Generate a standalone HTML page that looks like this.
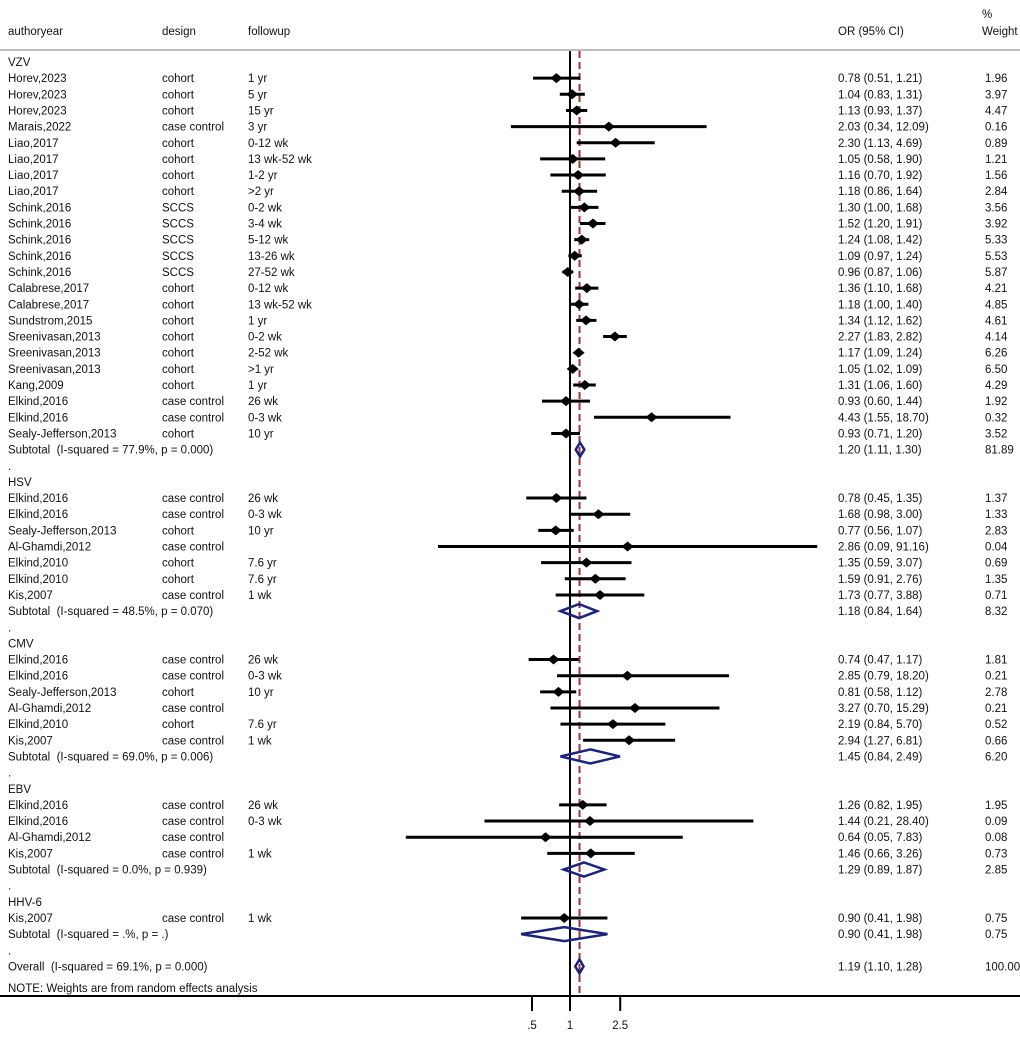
<!DOCTYPE html>
<html><head><meta charset="utf-8"><style>
body{margin:0;background:#fff;font-family:"Liberation Sans",Arial,sans-serif;}
svg text{font-family:"Liberation Sans",Arial,sans-serif;font-size:11.5px;fill:#111;white-space:pre;}
</style></head><body>
<svg id="plot" width="1020" height="1036" xmlns="http://www.w3.org/2000/svg">
<text x="8" y="35">authoryear</text>
<text x="162" y="35">design</text>
<text x="248" y="35">followup</text>
<text x="838" y="35">OR (95% CI)</text>
<text x="982" y="18">%</text>
<text x="982" y="35">Weight</text>
<line x1="0" y1="50" x2="1020" y2="50" stroke="#bbb" stroke-width="2"/>
<g id="g"></g>
</svg>
<script>
const rowLabels=["VZV","Horev,2023","Horev,2023","Horev,2023","Marais,2022","Liao,2017","Liao,2017","Liao,2017","Liao,2017","Schink,2016","Schink,2016","Schink,2016","Schink,2016","Schink,2016","Calabrese,2017","Calabrese,2017","Sundstrom,2015","Sreenivasan,2013","Sreenivasan,2013","Sreenivasan,2013","Kang,2009","Elkind,2016","Elkind,2016","Sealy-Jefferson,2013","Subtotal  (I-squared = 77.9%, p = 0.000)",".","HSV","Elkind,2016","Elkind,2016","Sealy-Jefferson,2013","Al-Ghamdi,2012","Elkind,2010","Elkind,2010","Kis,2007","Subtotal  (I-squared = 48.5%, p = 0.070)",".","CMV","Elkind,2016","Elkind,2016","Sealy-Jefferson,2013","Al-Ghamdi,2012","Elkind,2010","Kis,2007","Subtotal  (I-squared = 69.0%, p = 0.006)",".","EBV","Elkind,2016","Elkind,2016","Al-Ghamdi,2012","Kis,2007","Subtotal  (I-squared = 0.0%, p = 0.939)",".","HHV-6","Kis,2007","Subtotal  (I-squared = .%, p = .)",".","Overall  (I-squared = 69.1%, p = 0.000)"];
const rowTypes=["h","s","s","s","s","s","s","s","s","s","s","s","s","s","s","s","s","s","s","s","s","s","s","s","d","b","h","s","s","s","s","s","s","s","d","b","h","s","s","s","s","s","s","d","b","h","s","s","s","s","d","b","h","s","d","b","d"];
const designs=["","cohort","cohort","cohort","case control","cohort","cohort","cohort","cohort","SCCS","SCCS","SCCS","SCCS","SCCS","cohort","cohort","cohort","cohort","cohort","cohort","cohort","case control","case control","cohort","","","","case control","case control","cohort","case control","cohort","cohort","case control","","","","case control","case control","cohort","case control","cohort","case control","","","","case control","case control","case control","case control","","","","case control","","",""];
const followups=["","1 yr","5 yr","15 yr","3 yr","0-12 wk","13 wk-52 wk","1-2 yr",">2 yr","0-2 wk","3-4 wk","5-12 wk","13-26 wk","27-52 wk","0-12 wk","13 wk-52 wk","1 yr","0-2 wk","2-52 wk",">1 yr","1 yr","26 wk","0-3 wk","10 yr","","","","26 wk","0-3 wk","10 yr","","7.6 yr","7.6 yr","1 wk","","","","26 wk","0-3 wk","10 yr","","7.6 yr","1 wk","","","","26 wk","0-3 wk","","1 wk","","","","1 wk","","",""];
const orValues=[null,0.78,1.04,1.13,2.03,2.30,1.05,1.16,1.18,1.30,1.52,1.24,1.09,0.96,1.36,1.18,1.34,2.27,1.17,1.05,1.31,0.93,4.43,0.93,1.20,null,null,0.78,1.68,0.77,2.86,1.35,1.59,1.73,1.18,null,null,0.74,2.85,0.81,3.27,2.19,2.94,1.45,null,null,1.26,1.44,0.64,1.46,1.29,null,null,0.90,0.90,null,1.19];
const ciLower=[null,0.51,0.83,0.93,0.34,1.13,0.58,0.70,0.86,1.00,1.20,1.08,0.97,0.87,1.10,1.00,1.12,1.83,1.09,1.02,1.06,0.60,1.55,0.71,1.11,null,null,0.45,0.98,0.56,0.09,0.59,0.91,0.77,0.84,null,null,0.47,0.79,0.58,0.70,0.84,1.27,0.84,null,null,0.82,0.21,0.05,0.66,0.89,null,null,0.41,0.41,null,1.10];
const ciUpper=[null,1.21,1.31,1.37,12.09,4.69,1.90,1.92,1.64,1.68,1.91,1.42,1.24,1.06,1.68,1.40,1.62,2.82,1.24,1.09,1.60,1.44,18.70,1.20,1.30,null,null,1.35,3.00,1.07,91.16,3.07,2.76,3.88,1.64,null,null,1.17,18.20,1.12,15.29,5.70,6.81,2.49,null,null,1.95,28.40,7.83,3.26,1.87,null,null,1.98,1.98,null,1.28];
const weights=[null,1.96,3.97,4.47,0.16,0.89,1.21,1.56,2.84,3.56,3.92,5.33,5.53,5.87,4.21,4.85,4.61,4.14,6.26,6.50,4.29,1.92,0.32,3.52,81.89,null,null,1.37,1.33,2.83,0.04,0.69,1.35,0.71,8.32,null,null,1.81,0.21,2.78,0.21,0.52,0.66,6.20,null,null,1.95,0.09,0.08,0.73,2.85,null,null,0.75,0.75,null,100.00];
const xTicks=[0.5,1,2.5];
const xTickLabels=[".5","1","2.5"];
const overallOR=1.19;

const NS="http://www.w3.org/2000/svg";
const g=document.getElementById('g');
const X=v=>570+54.8*Math.log(v);
const Y=i=>62+i*16.15;
function mk(t,a,txt){const e=document.createElementNS(NS,t);for(const k in a)e.setAttribute(k,a[k]);if(txt!=null)e.textContent=txt;g.appendChild(e);return e;}
let e=mk('line',{x1:570,y1:51,x2:570,y2:996,stroke:'#000','stroke-width':2});


e=mk('line',{x1:X(overallOR),y1:51,x2:X(overallOR),y2:996,stroke:'#a0303a','stroke-width':2,'stroke-dasharray':'7,4'});


rowLabels.forEach((lab,i)=>{
  const y=Y(i),ty=y+4;
  e=mk('text',{x:8,y:ty},lab);
  
  
  if(designs[i]){e=mk('text',{x:162,y:ty},designs[i]);}
  if(followups[i]){e=mk('text',{x:248,y:ty},followups[i]);}
  if(orValues[i]!=null){
    e=mk('text',{x:838,y:ty},orValues[i].toFixed(2)+' ('+ciLower[i].toFixed(2)+', '+ciUpper[i].toFixed(2)+')');
    
    
    e=mk('text',{x:985,y:ty},weights[i].toFixed(2));
    
    
    const xl=X(ciLower[i]),xu=X(ciUpper[i]),xp=X(orValues[i]);
    if(rowTypes[i]==='s'){
      e=mk('line',{x1:xl,y1:y,x2:xu,y2:y,stroke:'#000','stroke-width':3});
      
      
      e=mk('polygon',{points:`${xp-6},${y} ${xp},${y-5} ${xp+6},${y} ${xp},${y+5}`,fill:'#000'});
      
      
    }else{
      e=mk('polygon',{points:`${xl},${y} ${xp},${y-7} ${xu},${y} ${xp},${y+7}`,fill:'none',stroke:'#1a237e','stroke-width':2.5});
      
      
    }
  }
});
e=mk('text',{x:8,y:992},'NOTE: Weights are from random effects analysis');


e=mk('line',{x1:0,y1:996,x2:1020,y2:996,stroke:'#000','stroke-width':2});


xTicks.forEach((t,i)=>{
  e=mk('line',{x1:X(t),y1:996,x2:X(t),y2:1011,stroke:'#000','stroke-width':2});
  
  
  e=mk('text',{x:X(t),y:1029,'text-anchor':'middle'},xTickLabels[i]);
  
  
});
</script>
</body></html>
